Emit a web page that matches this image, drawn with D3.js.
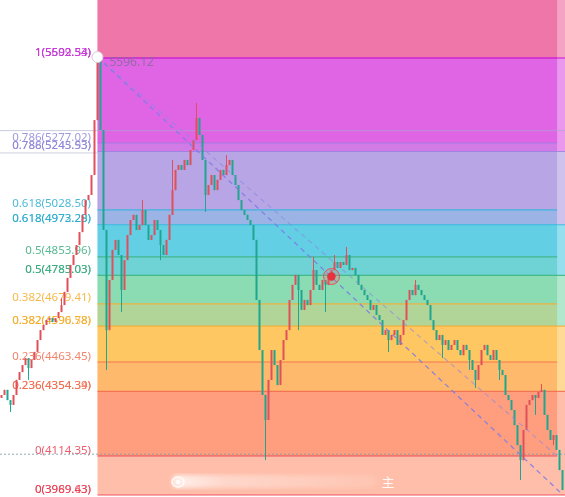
<!DOCTYPE html>
<html>
<head>
<meta charset="utf-8">
<script src="https://cdn.jsdelivr.net/npm/d3@7.9.0/dist/d3.min.js"></script>
<style>
  html, body { margin: 0; padding: 0; background: #fff; overflow: hidden; }
  svg { display: block; font-family: "Noto Sans", "Open Sans", sans-serif; }
</style>
</head>
<body>
<svg id="chart" width="565" height="497"></svg>
<script>
// --- candle data: one close per bar, open = previous close ---
const firstOpen = 4330;
const closes = [
  4341, 4360, 4322, 4304, 4341, 4397, 4426, 4452, 4478, 4441,
  4471, 4501, 4545, 4582, 4601, 4619, 4627, 4612, 4627, 4649,
  4675, 4724, 4776, 4824, 4861, 4898, 4946, 5010, 5065, 5084,
  5158, 5362, 5585, 5325, 4954, 4582, 4768, 4880, 4917, 4861,
  4731, 4842, 4935, 4991, 5010, 4954, 4972, 5028, 4972, 4917,
  4935, 4991, 4954, 4898, 4861, 4917, 5010, 5102, 5177, 5195,
  5177, 5214, 5195, 5251, 5288, 5370, 5307, 5214, 5084, 5121,
  5158, 5102, 5140, 5177, 5158, 5195, 5214, 5158, 5121, 5065,
  5028, 5010, 4991, 4972, 4917, 4694, 4508, 4341, 4248, 4397,
  4508, 4452, 4378, 4471, 4545, 4582, 4694, 4750, 4787, 4731,
  4657, 4694, 4675, 4731, 4805, 4750, 4731, 4768, 4750, 4787,
  4805, 4835, 4813, 4835, 4824, 4861, 4805, 4813, 4787, 4750,
  4731, 4712, 4694, 4657, 4675, 4638, 4619, 4564, 4582, 4545,
  4564, 4582, 4527, 4564, 4619, 4694, 4731, 4712, 4750, 4731,
  4712, 4694, 4675, 4619, 4582, 4545, 4564, 4527, 4545, 4508,
  4527, 4545, 4508, 4489, 4527, 4508, 4471, 4434, 4397, 4452,
  4508, 4527, 4489, 4471, 4508, 4471, 4434, 4415, 4341, 4322,
  4285, 4229, 4155, 4099, 4211, 4304, 4322, 4341, 4330, 4352,
  4360, 4267, 4211, 4174, 4192, 4137, 4062, 3988
];
// long wicks: [bar, price]
const wickHighs = [[20, 4700], [32, 5596.12], [47, 5065], [57, 5214], [65, 5426], [75, 5232],
  [104, 4854], [111, 4861], [115, 4891], [138, 4768], [180, 4382]];
const wickLows = [[3, 4278], [9, 4397], [35, 4434], [40, 4649], [53, 4842], [68, 5021], [88, 4099],
  [99, 4582], [108, 4649], [129, 4501], [147, 4478], [156, 4434], [158, 4367], [166, 4397],
  [173, 4025], [178, 4267], [184, 4155]];

// --- fibonacci drawings ---
const fibRatios = [1.272, 1, 0.786, 0.618, 0.5, 0.382, 0.236, 0];
const pricesA = [5994.6, 5592.54, 5277.02, 5028.5, 4853.96, 4679.41, 4463.45, 4114.35];
const pricesB = [6034.0, 5592.54, 5245.53, 4973.28, 4785.03, 4596.78, 4354.39, 3969.43];
const bandColors = ["#ea4a8c", "#d633de", "#a088de", "#30c0de", "#66d09b", "#ffb630", "#fe7f56"];
const lineColors = ["#e0408c", "#d22ed2", "#9a7ee0", "#2fb4dc", "#38b47e", "#f6aa2c", "#f26a4e", "#ec3c4c"];
const labelColors = ["#c63ad6", "#8e86da", "#2cadd0", "#3aac7e", "#f4ad2a", "#f06e50", "#ea3e52"];
const labelsA = ["1(5609.53)", "0.786(5277.02)", "0.618(5028.50)", "0.5(4853.96)", "0.382(4679.41)", "0.236(4463.45)", "0(4114.35)"];
const labelsB = ["1(5592.54)", "0.786(5245.53)", "0.618(4973.28)", "0.5(4785.03)", "0.382(4596.78)", "0.236(4354.39)", "0(3969.43)"];
const labelsC = ["1(5592.34)", "0.788(5243.93)", "0.618(4972.29)", "0.5(4783.03)", "0.382(4590.58)", "0.236(4354.34)", "0(3989.63)"];
const startBar = 32;
const endBarA = 185.2;
const endBarB = 191;
const trendEndB = 187.2;
const startPrice = 5596.12;

// misc marks
const markerBar = 110, markerPrice = 4781;
const dottedPrice = 4121;
const guidePrices = [5323];
const leftGuidePrices = [5240];

const W = 565, H = 497;
const svg = d3.select('#chart');

const x = d3.scaleLinear().domain([0, closes.length - 1]).range([1.5, 562.5]);
const y = d3.scaleLinear().domain([4114.35, 5277.02]).range([456, 143]);

// bands: drawing A and B, each semi transparent
function drawBands(prices, endBar) {
  const g = svg.append('g').attr('opacity', 0.5);
  bandColors.forEach((c, i) => {
    g.append('rect')
      .attr('x', x(startBar))
      .attr('width', x(endBar) - x(startBar))
      .attr('y', y(prices[i]))
      .attr('height', y(prices[i + 1]) - y(prices[i]))
      .attr('fill', c);
  });
}
drawBands(pricesA, endBarA);
drawBands(pricesB, endBarB);

// faint guide lines
guidePrices.forEach(p => {
  svg.append('line').attr('x1', 0).attr('x2', W).attr('y1', y(p)).attr('y2', y(p))
    .attr('stroke', '#a8a8cc').attr('stroke-width', 1).attr('opacity', 0.6);
});
leftGuidePrices.forEach(p => {
  svg.append('line').attr('x1', 0).attr('x2', x(startBar)).attr('y1', y(p)).attr('y2', y(p))
    .attr('stroke', '#b8bcd4').attr('stroke-width', 1).attr('opacity', 0.7);
});

// level lines
function drawLevels(prices, endBar) {
  prices.forEach((p, i) => {
    if (i === 0) return;
    svg.append('line')
      .attr('x1', x(startBar)).attr('x2', x(endBar))
      .attr('y1', y(p)).attr('y2', y(p))
      .attr('stroke', lineColors[i])
      .attr('stroke-width', i === 1 ? 1.6 : 1.2)
      .attr('opacity', 0.85);
  });
}
drawLevels(pricesA, endBarA);
drawLevels(pricesB, endBarB);

// labels on the left (drawn under candles); B and C sit on top of each other
function drawLabels(texts, prices, opacity) {
  texts.forEach((t, i) => {
    svg.append('text')
      .attr('x', 91)
      .attr('y', y(prices[i + 1]) - 2.5)
      .attr('text-anchor', 'end')
      .attr('font-size', 11.5)
      .attr('fill', labelColors[i])
      .attr('opacity', opacity)
      .text(t);
  });
}
drawLabels(labelsA, pricesA, 0.85);
drawLabels(labelsB, pricesB, 0.95);
drawLabels(labelsC, pricesB, 0.75);

// dotted price line
svg.append('line').attr('x1', 0).attr('x2', W)
  .attr('y1', y(dottedPrice)).attr('y2', y(dottedPrice))
  .attr('stroke', '#7f9ea6').attr('stroke-width', 1)
  .attr('stroke-dasharray', '2,2').attr('opacity', 0.85);

// candles
const bars = closes.map((c, i) => {
  const o = i === 0 ? firstOpen : closes[i - 1];
  return { i, o, c, h: Math.max(o, c), l: Math.min(o, c) };
});
wickHighs.forEach(([i, p]) => { bars[i].h = p; });
wickLows.forEach(([i, p]) => { bars[i].l = p; });

const up = '#e0505a', down = '#1fa68f';
const cg = svg.append('g');
bars.forEach(d => {
  const col = d.c >= d.o ? up : down;
  cg.append('line')
    .attr('x1', x(d.i)).attr('x2', x(d.i))
    .attr('y1', y(d.h)).attr('y2', y(d.l))
    .attr('stroke', col).attr('stroke-width', 1);
  const top = y(Math.max(d.o, d.c));
  const bot = y(Math.min(d.o, d.c));
  cg.append('rect')
    .attr('x', x(d.i) - 1)
    .attr('width', 2)
    .attr('y', top)
    .attr('height', Math.max(1, bot - top))
    .attr('fill', col);
});

// trend lines (dashed diagonals)
svg.append('line')
  .attr('x1', x(startBar)).attr('y1', y(startPrice))
  .attr('x2', x(endBarA)).attr('y2', y(pricesA[7]))
  .attr('stroke', '#8c88e0').attr('stroke-width', 1.2)
  .attr('stroke-dasharray', '5,4').attr('opacity', 0.6);
svg.append('line')
  .attr('x1', x(startBar)).attr('y1', y(startPrice))
  .attr('x2', x(trendEndB)).attr('y2', y(pricesB[7]))
  .attr('stroke', '#7c7ce4').attr('stroke-width', 1.3)
  .attr('stroke-dasharray', '5,4').attr('opacity', 0.85);

// start handle and price text
svg.append('circle')
  .attr('cx', x(startBar)).attr('cy', y(startPrice)).attr('r', 5.5)
  .attr('fill', '#fff').attr('stroke', '#d8c8d8').attr('stroke-width', 1);
svg.append('text')
  .attr('x', x(startBar) + 12).attr('y', y(startPrice) + 9)
  .attr('font-size', 12).attr('fill', '#8a6a9a').attr('opacity', 0.85)
  .text('5596.12');

// red marker
svg.append('circle')
  .attr('cx', x(markerBar)).attr('cy', y(markerPrice)).attr('r', 8)
  .attr('fill', '#f06070').attr('fill-opacity', 0.25)
  .attr('stroke', '#e8505e').attr('stroke-width', 1);
svg.append('circle')
  .attr('cx', x(markerBar)).attr('cy', y(markerPrice)).attr('r', 4.2)
  .attr('fill', '#e8303e');

// watermark at the bottom
const defs = svg.append('defs');
const grad = defs.append('linearGradient').attr('id', 'wm');
grad.append('stop').attr('offset', '0%').attr('stop-color', '#fff').attr('stop-opacity', 0.8);
grad.append('stop').attr('offset', '25%').attr('stop-color', '#fff').attr('stop-opacity', 0.4);
grad.append('stop').attr('offset', '100%').attr('stop-color', '#fff').attr('stop-opacity', 0.1);
defs.append('filter').attr('id', 'blur')
  .append('feGaussianBlur').attr('stdDeviation', 2);
svg.append('rect')
  .attr('x', 172).attr('y', 475).attr('width', 205).attr('height', 13)
  .attr('rx', 6).attr('fill', 'url(#wm)').attr('filter', 'url(#blur)');
svg.append('ellipse')
  .attr('cx', 178).attr('cy', 482).attr('rx', 6).attr('ry', 5)
  .attr('fill', 'none').attr('stroke', '#fff').attr('stroke-width', 1.5).attr('opacity', 0.85);
svg.append('circle')
  .attr('cx', 178).attr('cy', 482).attr('r', 2)
  .attr('fill', '#fff').attr('opacity', 0.85);
svg.append('text')
  .attr('x', 388).attr('y', 487).attr('text-anchor', 'middle')
  .attr('font-size', 13).attr('fill', '#fff').attr('opacity', 0.9)
  .attr('font-family', '"Noto Sans CJK SC", sans-serif')
  .text('主');
</script>
</body>
</html>
